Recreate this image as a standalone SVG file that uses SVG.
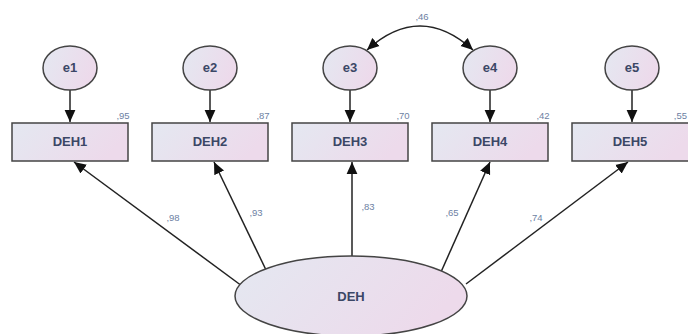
<svg xmlns="http://www.w3.org/2000/svg" width="688" height="334" viewBox="0 0 688 334">
  <defs>
    <linearGradient id="fillg" x1="0" y1="0" x2="1" y2="0.3">
      <stop offset="0" stop-color="#e4e8f1"/>
      <stop offset="1" stop-color="#eddaeb"/>
    </linearGradient>
    <marker id="arrL" viewBox="0 0 10 10" refX="10" refY="5" markerWidth="12" markerHeight="12" markerUnits="userSpaceOnUse" orient="auto-start-reverse">
      <path d="M0,0.5 L10,5 L0,9.5 z" fill="#111"/>
    </marker>
    <style>
      .shape { fill: url(#fillg); stroke: #444; stroke-width: 1.5; }
      .lbl { font-family: "Liberation Sans", Arial, sans-serif; font-weight: bold; font-size: 13px; fill: #3b4766; text-anchor: middle; }
      .num { font-family: "Liberation Sans", Arial, sans-serif; font-size: 9.5px; fill: #6d7fa3; text-anchor: middle; }
      .edge { stroke: #222; stroke-width: 1.5; fill: none; }
    </style>
  </defs>

  <g id="connectors">
    <line class="edge" x1="70" y1="90" x2="70" y2="122" marker-end="url(#arrL)"/>
    <line class="edge" x1="210" y1="90" x2="210" y2="122" marker-end="url(#arrL)"/>
    <line class="edge" x1="350" y1="90" x2="350" y2="122" marker-end="url(#arrL)"/>
    <line class="edge" x1="490" y1="90" x2="490" y2="122" marker-end="url(#arrL)"/>
    <line class="edge" x1="632" y1="90" x2="632" y2="122" marker-end="url(#arrL)"/>
    <path class="edge" d="M 367 50 Q 420 2 473 50" marker-start="url(#arrL)" marker-end="url(#arrL)"/>
    <line class="edge" x1="242" y1="286" x2="74" y2="162" marker-end="url(#arrL)"/>
    <line class="edge" x1="267" y1="272" x2="214" y2="162" marker-end="url(#arrL)"/>
    <line class="edge" x1="352" y1="257" x2="352" y2="162" marker-end="url(#arrL)"/>
    <line class="edge" x1="441" y1="272" x2="490" y2="162" marker-end="url(#arrL)"/>
    <line class="edge" x1="466" y1="284" x2="628" y2="162" marker-end="url(#arrL)"/>
    <text class="num" x="422" y="20">,46</text>
    <text class="num" x="173" y="221">,98</text>
    <text class="num" x="256" y="216">,93</text>
    <text class="num" x="368" y="210">,83</text>
    <text class="num" x="452" y="216">,65</text>
    <text class="num" x="536" y="221">,74</text>
  </g>

  <g id="e1"><ellipse class="shape" cx="70" cy="68" rx="27" ry="22"/><text class="lbl" x="70" y="72">e1</text></g>
  <g id="e2"><ellipse class="shape" cx="210" cy="68" rx="27" ry="22"/><text class="lbl" x="210" y="72">e2</text></g>
  <g id="e3"><ellipse class="shape" cx="350" cy="68" rx="27" ry="22"/><text class="lbl" x="350" y="72">e3</text></g>
  <g id="e4"><ellipse class="shape" cx="490" cy="68" rx="27" ry="22"/><text class="lbl" x="490" y="72">e4</text></g>
  <g id="e5"><ellipse class="shape" cx="632" cy="68" rx="27" ry="22"/><text class="lbl" x="632" y="72">e5</text></g>

  <g id="DEH1"><rect class="shape" x="12" y="123" width="116" height="38"/><text class="lbl" x="70" y="146">DEH1</text><text class="num" x="123" y="119">,95</text></g>
  <g id="DEH2"><rect class="shape" x="152" y="123" width="116" height="38"/><text class="lbl" x="210" y="146">DEH2</text><text class="num" x="263" y="119">,87</text></g>
  <g id="DEH3"><rect class="shape" x="292" y="123" width="116" height="38"/><text class="lbl" x="350" y="146">DEH3</text><text class="num" x="403" y="119">,70</text></g>
  <g id="DEH4"><rect class="shape" x="432" y="123" width="116" height="38"/><text class="lbl" x="490" y="146">DEH4</text><text class="num" x="543" y="119">,42</text></g>
  <g id="DEH5"><rect class="shape" x="572" y="123" width="120" height="38"/><text class="lbl" x="630" y="146">DEH5</text><text class="num" x="687" y="119" style="text-anchor:end">,55</text></g>

  <g id="DEH"><ellipse class="shape" cx="351" cy="296" rx="116" ry="40"/><text class="lbl" x="351" y="301">DEH</text></g>
</svg>
